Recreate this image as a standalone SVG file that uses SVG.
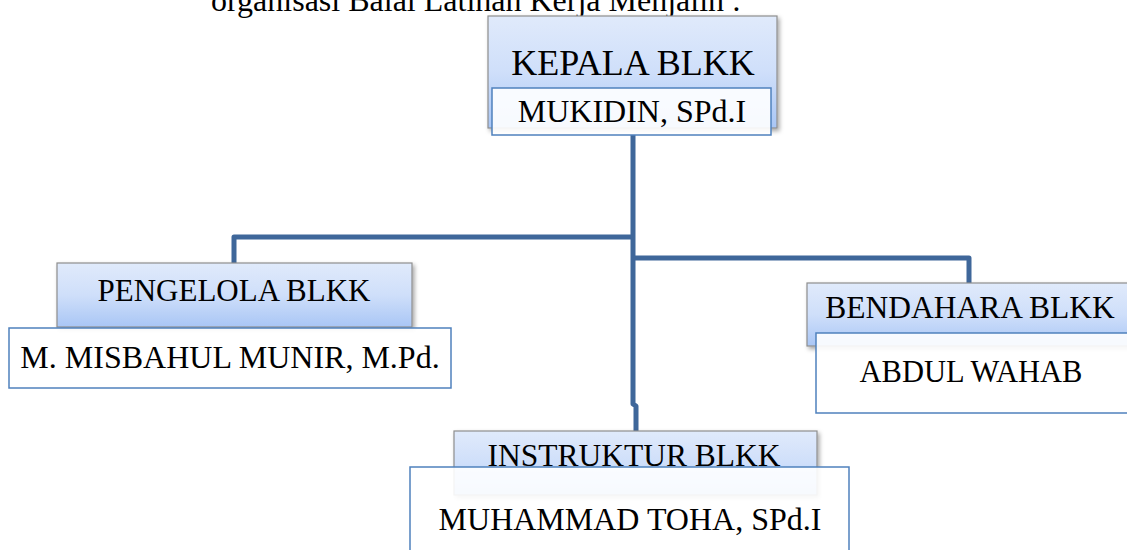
<svg xmlns="http://www.w3.org/2000/svg" width="1127" height="550" viewBox="0 0 1127 550">
  <style>
    .title { fill: url(#blueGrad); stroke: #8e8e8e; stroke-width: 1.2; filter: url(#shadow); }
    .name { fill: #ffffff; fill-opacity: 0.9; stroke: #4f81bd; stroke-width: 1.5; }
    .t { font-family: "Liberation Serif", "Times New Roman", serif; fill: #000000; text-anchor: middle; }
    .conn { fill: none; stroke: #3f679a; stroke-width: 5; stroke-linejoin: round; }
  </style>
  <defs>
    <linearGradient id="blueGrad" x1="0" y1="0" x2="0" y2="1">
      <stop offset="0" stop-color="#e0eafb"/>
      <stop offset="0.5" stop-color="#cfdffa"/>
      <stop offset="1" stop-color="#a9c6f5"/>
    </linearGradient>
    <filter id="shadow" x="-10%" y="-10%" width="125%" height="135%">
      <feDropShadow dx="2" dy="2.5" stdDeviation="2" flood-color="#000000" flood-opacity="0.35"/>
    </filter>
  </defs>
  <rect x="0" y="0" width="1127" height="550" fill="#ffffff"/>

  <text class="t" x="476" y="11" font-size="32">organisasi Balai Latihan Kerja Menjalin :</text>

  <g id="connectors">
    <path class="conn" d="M633,135 V404 L636,406 V431"/>
    <path class="conn" d="M633,237 H234 V263"/>
    <path class="conn" d="M633,258 H969 V283"/>
  </g>

  <g id="kepala">
    <rect class="title" x="488" y="16" width="289" height="112"/>
    <text class="t" x="633" y="75" font-size="36">KEPALA BLKK</text>
    <rect class="name" x="492" y="88" width="279" height="47"/>
    <text class="t" x="632" y="122" font-size="32">MUKIDIN, SPd.I</text>
  </g>

  <g id="pengelola">
    <rect class="title" x="57" y="263" width="355" height="64"/>
    <text class="t" x="234" y="301" font-size="31">PENGELOLA BLKK</text>
    <rect class="name" x="9" y="328" width="442" height="60"/>
    <text class="t" x="230" y="368" font-size="32">M. MISBAHUL MUNIR, M.Pd.</text>
  </g>

  <g id="bendahara">
    <rect class="title" x="807" y="283" width="340" height="63"/>
    <text class="t" x="970" y="318" font-size="31.5">BENDAHARA BLKK</text>
    <rect class="name" x="816" y="333" width="330" height="80"/>
    <text class="t" x="971" y="382" font-size="30.5">ABDUL WAHAB</text>
  </g>

  <g id="instruktur">
    <rect class="title" x="454" y="431" width="363" height="64"/>
    <text class="t" x="634" y="466" font-size="31.5">INSTRUKTUR BLKK</text>
    <rect class="name" x="410" y="467" width="439" height="100"/>
    <text class="t" x="630" y="530" font-size="32">MUHAMMAD TOHA, SPd.I</text>
  </g>
</svg>
